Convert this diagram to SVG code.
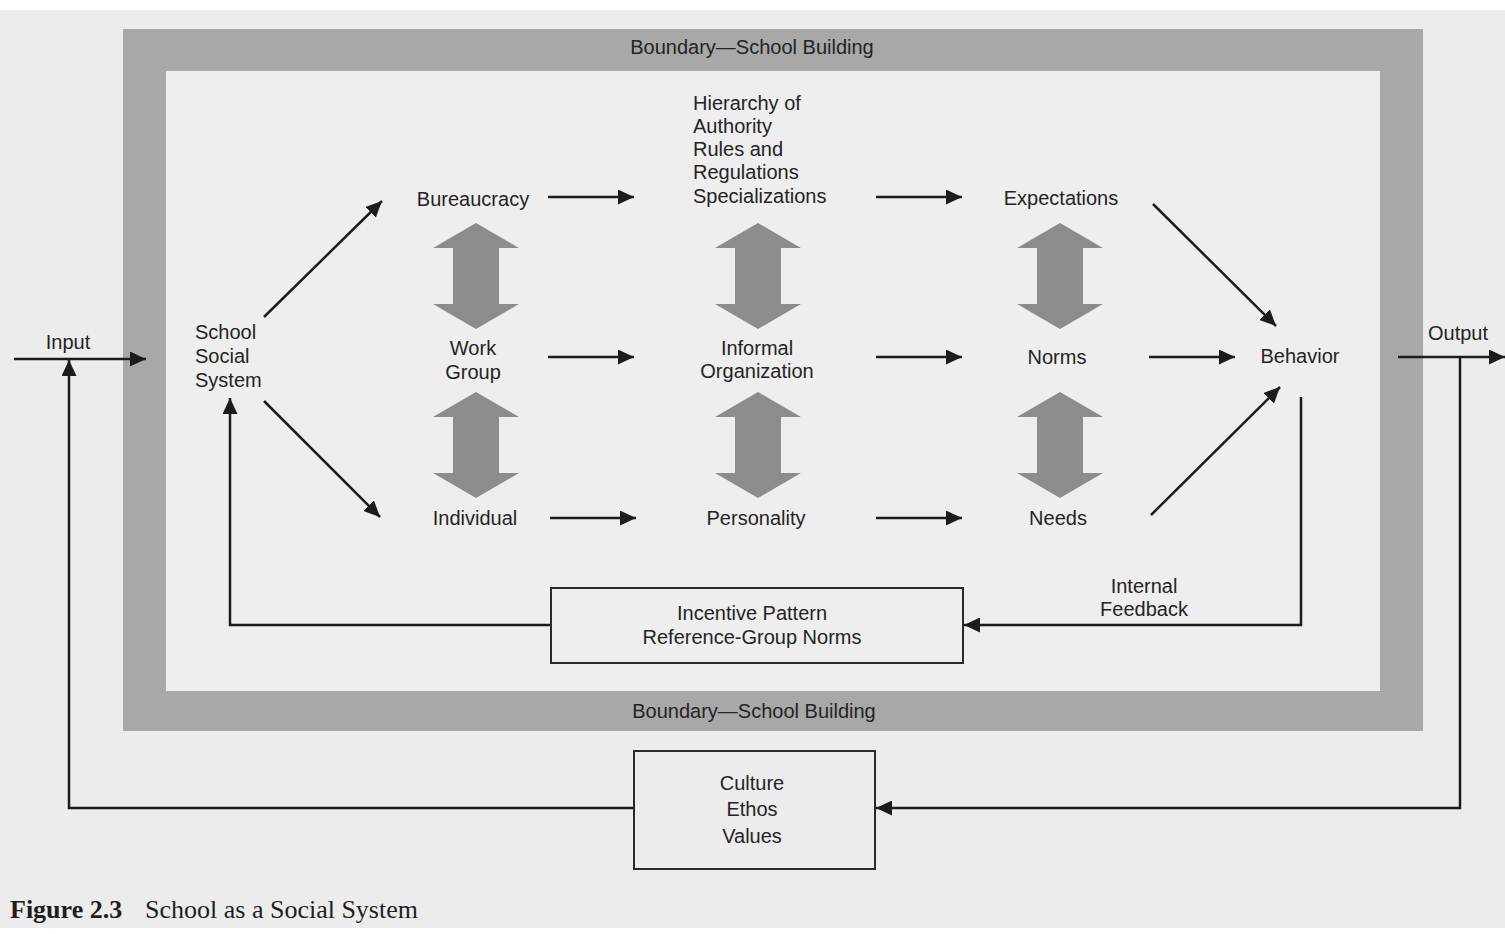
<svg xmlns="http://www.w3.org/2000/svg" width="1505" height="934" viewBox="0 0 1505 934">
  <style>
    .lbl { font-family: "Liberation Sans", Arial, sans-serif; font-size: 20px; fill: #242424; text-anchor: middle; }
    .lft { text-anchor: start; }
    .cap { font-family: "Liberation Serif", "Times New Roman", serif; font-size: 26px; fill: #1e1e1e; }
    .wire { fill: none; stroke: #1c1c1c; stroke-width: 2.5; }
    .arr { marker-end: url(#head); }
    .box { fill: none; stroke: #2a2a2a; stroke-width: 2; }
    .dbl { fill: #8c8c8c; }
  </style>
  <defs>
    <marker id="head" markerUnits="userSpaceOnUse" markerWidth="17" markerHeight="15" refX="16" refY="7.5" orient="auto">
      <path d="M0,0 L16,7.5 L0,15 z" fill="#1c1c1c"/>
    </marker>
    <!-- two-way block arrow, centred on x=0, 106 tall -->
    <path id="twoway" d="M0,0 L43,25 L23,25 L23,81 L43,81 L0,106 L-43,81 L-23,81 L-23,25 L-43,25 Z"/>
  </defs>

  <!-- page -->
  <rect x="0" y="0" width="1505" height="934" fill="#ffffff"/>
  <rect x="0" y="10" width="1505" height="918" fill="#ececec"/>

  <!-- school building boundary -->
  <g id="boundary">
    <rect x="123" y="29" width="1300" height="702" fill="#a8a8a8"/>
    <rect x="166" y="71" width="1214" height="620" fill="#eeeeee"/>
    <text class="lbl" x="752" y="54">Boundary—School Building</text>
    <text class="lbl" x="754" y="718">Boundary—School Building</text>
  </g>

  <!-- connectors -->
  <g id="connectors">
    <!-- input / output -->
    <line class="wire arr" x1="14" y1="359" x2="146" y2="359"/>
    <line class="wire arr" x1="1398" y1="357" x2="1505" y2="357"/>
    <!-- external feedback loop -->
    <polyline class="wire arr" points="1460,357 1460,808 876,808"/>
    <polyline class="wire arr" points="634,808 69,808 69,360"/>
    <!-- internal feedback loop -->
    <polyline class="wire arr" points="1301,397 1301,625 964,625"/>
    <polyline class="wire arr" points="551,625 230,625 230,398"/>
    <!-- fan out from school social system -->
    <line class="wire arr" x1="264" y1="317" x2="382" y2="201"/>
    <line class="wire arr" x1="264" y1="401" x2="380" y2="517"/>
    <!-- row arrows -->
    <line class="wire arr" x1="548" y1="197" x2="634" y2="197"/>
    <line class="wire arr" x1="548" y1="357" x2="634" y2="357"/>
    <line class="wire arr" x1="550" y1="518" x2="636" y2="518"/>
    <line class="wire arr" x1="876" y1="197" x2="962" y2="197"/>
    <line class="wire arr" x1="876" y1="357" x2="962" y2="357"/>
    <line class="wire arr" x1="876" y1="518" x2="962" y2="518"/>
    <!-- into behavior -->
    <line class="wire arr" x1="1153" y1="204" x2="1276" y2="326"/>
    <line class="wire arr" x1="1149" y1="357" x2="1235" y2="357"/>
    <line class="wire arr" x1="1151" y1="515" x2="1280" y2="387"/>
  </g>

  <!-- two-way block arrows -->
  <g id="interactions" class="dbl">
    <use href="#twoway" transform="translate(476,223)"/>
    <use href="#twoway" transform="translate(476,392)"/>
    <use href="#twoway" transform="translate(758,223)"/>
    <use href="#twoway" transform="translate(758,392)"/>
    <use href="#twoway" transform="translate(1060,223)"/>
    <use href="#twoway" transform="translate(1060,392)"/>
  </g>

  <g id="input"><text class="lbl" x="68" y="349">Input</text></g>
  <g id="output"><text class="lbl" x="1458" y="340">Output</text></g>

  <g id="school-social-system">
    <text class="lbl lft" x="195" y="339">School</text>
    <text class="lbl lft" x="195" y="363">Social</text>
    <text class="lbl lft" x="195" y="387">System</text>
  </g>

  <g id="bureaucracy"><text class="lbl" x="473" y="206">Bureaucracy</text></g>
  <g id="work-group">
    <text class="lbl" x="473" y="355">Work</text>
    <text class="lbl" x="473" y="379">Group</text>
  </g>
  <g id="individual"><text class="lbl" x="475" y="525">Individual</text></g>

  <g id="hierarchy">
    <text class="lbl lft" x="693" y="110">Hierarchy of</text>
    <text class="lbl lft" x="693" y="133">Authority</text>
    <text class="lbl lft" x="693" y="156">Rules and</text>
    <text class="lbl lft" x="693" y="179">Regulations</text>
    <text class="lbl lft" x="693" y="203">Specializations</text>
  </g>
  <g id="informal-organization">
    <text class="lbl" x="757" y="355">Informal</text>
    <text class="lbl" x="757" y="378">Organization</text>
  </g>
  <g id="personality"><text class="lbl" x="756" y="525">Personality</text></g>

  <g id="expectations"><text class="lbl" x="1061" y="205">Expectations</text></g>
  <g id="norms"><text class="lbl" x="1057" y="364">Norms</text></g>
  <g id="needs"><text class="lbl" x="1058" y="525">Needs</text></g>

  <g id="behavior"><text class="lbl" x="1300" y="363">Behavior</text></g>

  <g id="internal-feedback">
    <text class="lbl" x="1144" y="593">Internal</text>
    <text class="lbl" x="1144" y="616">Feedback</text>
  </g>

  <g id="incentive-pattern">
    <rect class="box" x="551" y="588" width="412" height="75"/>
    <text class="lbl" x="752" y="620">Incentive Pattern</text>
    <text class="lbl" x="752" y="644">Reference-Group Norms</text>
  </g>

  <g id="culture">
    <rect class="box" x="634" y="751" width="241" height="118"/>
    <text class="lbl" x="752" y="790">Culture</text>
    <text class="lbl" x="752" y="816">Ethos</text>
    <text class="lbl" x="752" y="843">Values</text>
  </g>

  <g id="caption">
    <text class="cap" x="10" y="918" font-weight="bold">Figure 2.3</text>
    <text class="cap" x="145" y="918">School as a Social System</text>
  </g>
</svg>
